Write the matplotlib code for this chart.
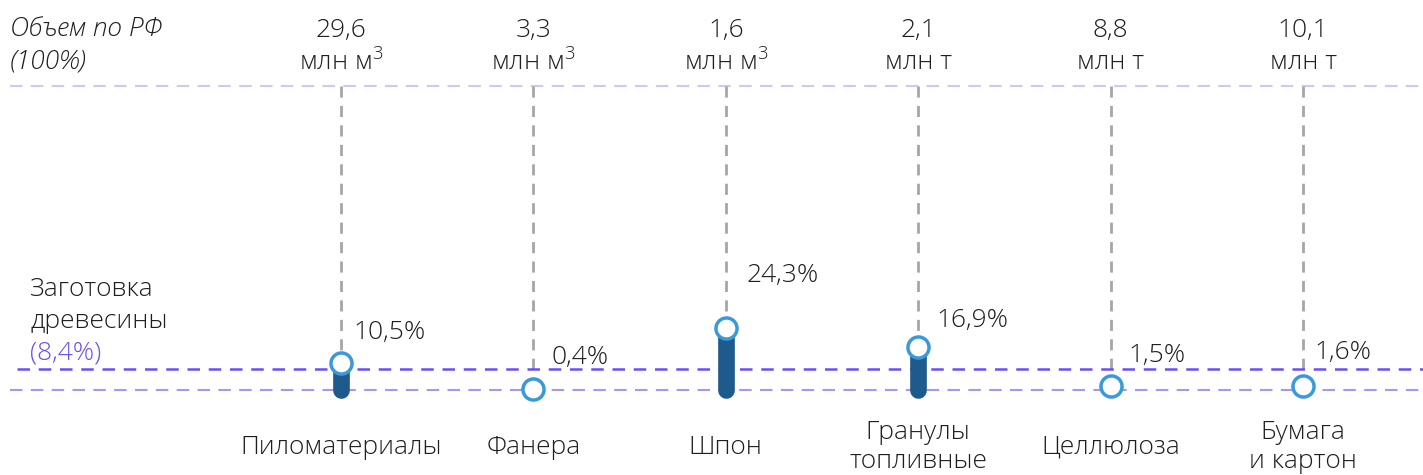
import matplotlib
matplotlib.use("Agg")
import matplotlib.pyplot as plt

plt.rcParams['font.family'] = ['Open Sans', 'DejaVu Sans']
plt.rcParams['font.weight'] = 'light'
plt.rcParams['mathtext.fontset'] = 'custom'
plt.rcParams['mathtext.rm'] = 'Open Sans:light'
plt.rcParams['mathtext.it'] = 'Open Sans:light:italic'

categories = ['Пиломатериалы', 'Фанера', 'Шпон', 'Гранулы\nтопливные', 'Целлюлоза', 'Бумага\nи картон']
shares = [10.5, 0.4, 24.3, 16.9, 1.5, 1.6]
share_labels = ['10,5%', '0,4%', '24,3%', '16,9%', '1,5%', '1,6%']
volumes = ['29,6', '3,3', '1,6', '2,1', '8,8', '10,1']
units = ['млн м$^{\\rm 3}$', 'млн м$^{\\rm 3}$', 'млн м$^{\\rm 3}$', 'млн т', 'млн т', 'млн т']
harvest = 8.4

W, H = 1423, 475
FS = 19
TXT = '#1e1e1e'
fig = plt.figure(figsize=(W / 100, H / 100), dpi=100)
ax = fig.add_axes([0, 0, 1, 1])
ax.axis('off')

# pixel mapping: category i at 341 + 192.4*i, value 0 at y=390px, 2.55 px per %
px_per_cat = 192.4
xmin = -341 / px_per_cat
ax.set_xlim(xmin, xmin + W / px_per_cat)
px_per_pct = 2.55
ax.set_ylim(-(H - 390) / px_per_pct, 390 / px_per_pct)

def fy(py):
    return 1 - py / H

x = list(range(len(categories)))
top_val = (390 - 86) / px_per_pct

# horizontal guide lines
ax.axhline(top_val, xmin=10 / W, color='#cfc8f2', lw=1.5, ls=(0, (6, 4)), zorder=1)
ax.axhline(0, xmin=10 / W, color='#a697f0', lw=1.5, ls=(0, (6, 4)), zorder=1)
ax.axhline(harvest, xmin=17 / W, color='#6b4ef5', lw=1.8, ls=(0, (5, 3.5)), zorder=2.5)

# vertical gray dashes
for xi, v in zip(x, shares):
    ax.plot([xi, xi], [top_val, v], color='#a6a6a6', lw=2, ls=(0, (4, 3)), zorder=2)

# bars
for xi, v in zip(x, shares):
    if v > 2:
        ax.plot([xi, xi], [0, v], color='#1f5a8c', lw=12, solid_capstyle='round', zorder=3)

ax.scatter(x, shares, s=230, facecolor='white', edgecolor='#3a9ad9', linewidths=2.5, zorder=5)

label_dx = [12, 18, 21, 18, 18, 11]
label_dy = [31, 31, 53, 26, 31, 33]
for xi, v, lab, dx, dy in zip(x, shares, share_labels, label_dx, label_dy):
    ax.annotate(lab, (xi, v), xytext=(dx * 0.72, dy * 0.72), textcoords='offset points',
                ha='left', va='center', fontsize=FS, color=TXT)

# top volume labels
for xi, vol, un in zip(x, volumes, units):
    xf = (341 + px_per_cat * xi) / W
    fig.text(xf, fy(30), vol, ha='center', va='center', fontsize=FS, color=TXT)
    fig.text(xf, fy(62), un, ha='center', va='center', fontsize=FS, color=TXT)

fig.text(10 / W, fy(30), 'Объем по РФ', ha='left', va='center', fontsize=FS, style='italic', color=TXT)
fig.text(10 / W, fy(62), '(100%)', ha='left', va='center', fontsize=FS, style='italic', color=TXT)

fig.text(30 / W, fy(290), 'Заготовка', ha='left', va='center', fontsize=FS, color=TXT)
fig.text(30 / W, fy(322), 'древесины', ha='left', va='center', fontsize=FS, color=TXT)
fig.text(30 / W, fy(353), '(8,4%)', ha='left', va='center', fontsize=FS, color='#6b4ef5')

for xi, cat in zip(x, categories):
    xf = (341 + px_per_cat * xi) / W
    fig.text(xf, fy(447), cat, ha='center', va='center', fontsize=FS, color=TXT,
             linespacing=1.2)

fig.savefig('out.png', dpi=100)
